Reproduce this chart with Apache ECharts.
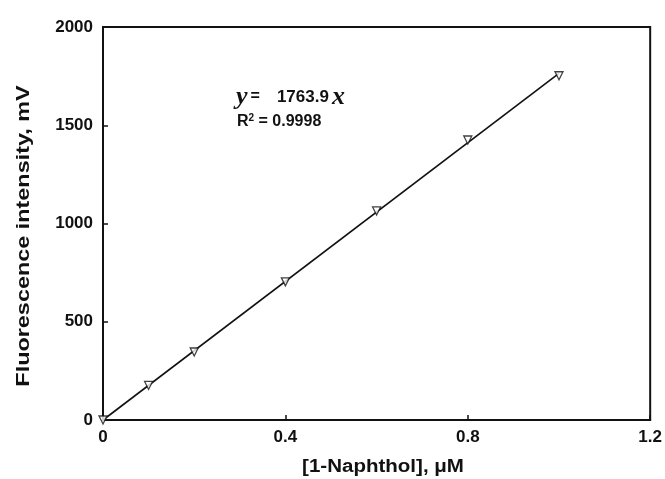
<!DOCTYPE html>
<html><head><meta charset="utf-8">
<script src="https://cdn.jsdelivr.net/npm/echarts@6/dist/echarts.min.js"></script>
<style>html,body{margin:0;padding:0;background:#fff}#c{width:665px;height:479px}</style>
</head><body><div id="c"></div>
<script>
const xValues = [0, 0.1, 0.2, 0.4, 0.6, 0.8, 1.0];
const yValues = [0, 176, 346, 703, 1064, 1425, 1752];
const slope = 1763.9;
const fitX = [0, 1.0];
const xTitle = '[1-Naphthol], μM';
const yTitle = 'Fluorescence intensity, mV';

const chart = echarts.init(document.getElementById('c'));
const font = 'Liberation Sans, Arial, sans-serif';
chart.setOption({
  animation: false,
  grid: {left: 103, right: 14, top: 27, bottom: 59, show: true, borderColor: '#111', borderWidth: 2},
  xAxis: {
    type: 'value', min: 0, max: 1.2, interval: 0.4,
    axisLine: {show: true, lineStyle: {color: '#111', width: 2}},
    axisTick: {show: true, inside: true, length: 5, lineStyle: {color: '#111', width: 1.5}},
    splitLine: {show: false},
    axisLabel: {color: '#111', fontFamily: font, fontWeight: 'bold', fontSize: 17, margin: 9,
      formatter: v => (Math.abs(v) < 1e-9 ? '0' : (+v.toFixed(1)).toString())}
  },
  yAxis: {
    type: 'value', min: 0, max: 2000, interval: 500,
    axisLine: {show: true, lineStyle: {color: '#111', width: 2}},
    axisTick: {show: true, inside: true, length: 5, lineStyle: {color: '#111', width: 1.5}},
    splitLine: {show: false},
    axisLabel: {color: '#111', fontFamily: font, fontWeight: 'bold', fontSize: 17, margin: 10,
      formatter: v => String(v)}
  },
  series: [
    {
      type: 'line', data: fitX.map(x => [x, slope * x]), showSymbol: false, symbol: 'none',
      lineStyle: {color: '#111', width: 1.6}, z: 2
    },
    {
      type: 'scatter', data: xValues.map((x, i) => [x, yValues[i]]),
      symbol: 'triangle', symbolRotate: 180, symbolSize: 8,
      itemStyle: {color: '#fff', borderColor: '#111', borderWidth: 1.3}, z: 3
    }
  ],
  graphic: [
    {type: 'text', x: 24, y: 236, rotation: Math.PI / 2, scaleX: 1.3, style: {
      text: yTitle, font: 'bold 18px ' + font, fill: '#111', align: 'center', verticalAlign: 'middle'
    }},
    {type: 'text', x: 383, y: 467, scaleX: 1.14, style: {
      text: xTitle, font: 'bold 18px ' + font, fill: '#111', align: 'center', verticalAlign: 'middle'
    }},
    {type: 'text', left: 236, top: 84, style: {
      rich: {
        v: {fontFamily: 'Liberation Serif, Times New Roman, serif', fontStyle: 'italic', fontWeight: 'bold', fontSize: 26, fill: '#111'},
        e: {fontFamily: font, fontWeight: 'bold', fontSize: 16, fill: '#111', padding: [0, 0, 0, 3]},
        m: {fontFamily: font, fontWeight: 'bold', fontSize: 17, fill: '#111', padding: [0, 3, 0, 17]}
      },
      text: '{v|y}{e|=}{m|1763.9}{v|x}'
    }},
    {type: 'text', left: 237, top: 113, style: {
      rich: {
        n: {fontFamily: font, fontWeight: 'bold', fontSize: 16, fill: '#111'},
        s: {fontFamily: font, fontWeight: 'bold', fontSize: 10, fill: '#111', verticalAlign: 'top', padding: [0,0,7,0]}
      },
      text: '{n|R}{s|2}{n| = 0.9998}'
    }}
  ]
});
</script></body></html>
